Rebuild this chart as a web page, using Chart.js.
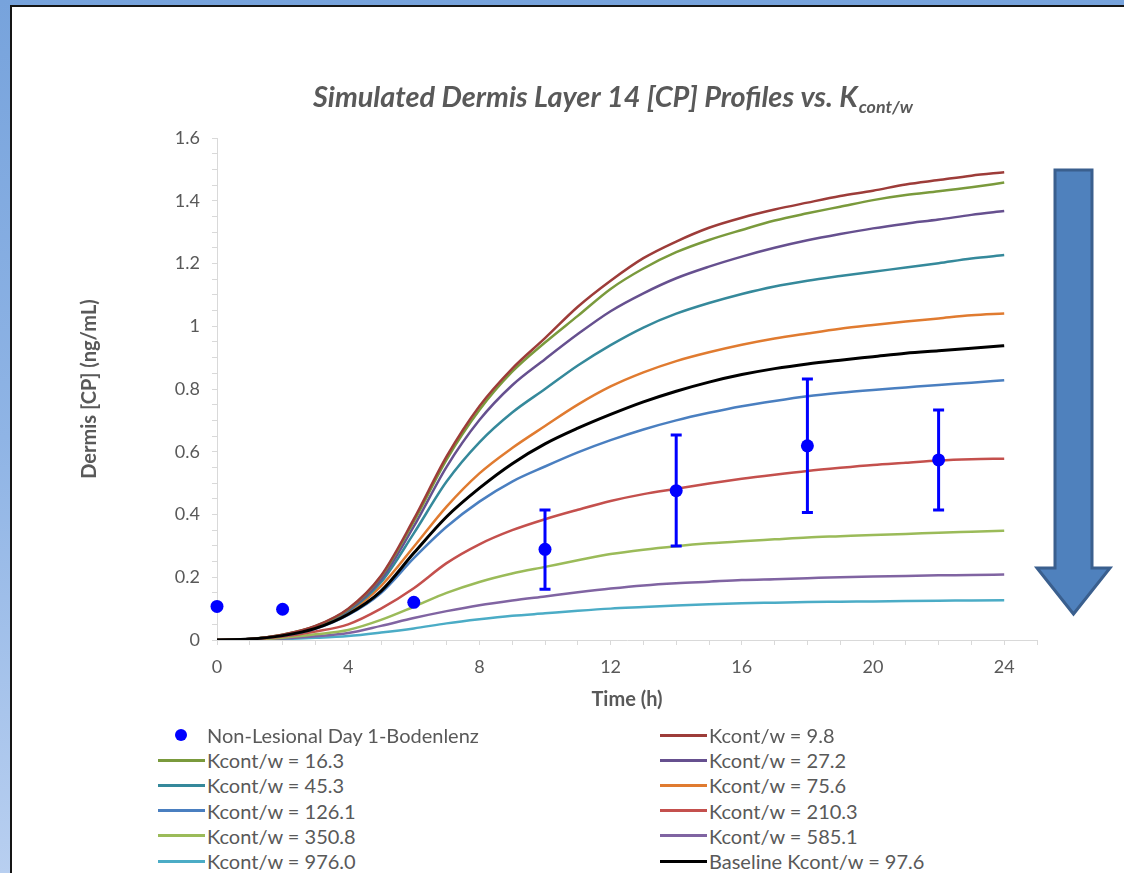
<!DOCTYPE html>
<html><head><meta charset="utf-8">
<script src="https://cdn.jsdelivr.net/npm/chart.js@4/dist/chart.umd.min.js"></script>
<style>
html,body{margin:0;padding:0;}
body{width:1124px;height:873px;overflow:hidden;position:relative;background:linear-gradient(to bottom,#77a3dc 0%,#8fb4e5 50%,#b8cff0 100%);font-family:Lato,"Open Sans",sans-serif;}
#panel{position:absolute;left:10px;top:5px;width:1114px;height:868px;background:#fff;border-left:2px solid #151515;border-top:2px solid #151515;box-sizing:border-box;}
#wrap{position:absolute;left:12px;top:7px;width:1112px;height:720px;}
.li{position:absolute;height:24px;display:flex;align-items:center;font-size:20px;color:#595959;white-space:nowrap;}
.sw{width:47px;height:3px;margin-right:2px;}
.dot{width:12px;height:12px;border-radius:50%;background:#0000ff;margin:0 20px 0 17px;}
#arrow{position:absolute;left:0;top:0;pointer-events:none;}
</style></head>
<body>
<div id="panel"></div>
<div id="wrap"><canvas id="c" width="1112" height="720"></canvas></div>
<div id="legend"></div>
<svg id="arrow" width="1124" height="873"><polygon points="1055,170 1092,170 1092,568 1110,568 1073.5,614 1037,568 1055,568" fill="#4f81bd" stroke="#3a5f8e" stroke-width="3" stroke-linejoin="miter"/></svg>
<script>
const TITLE_MAIN = 'Simulated Dermis Layer 14 [CP] Profiles vs. K';
const TITLE_SUB = 'cont/w';
const X_TITLE = 'Time (h)';
const Y_TITLE = 'Dermis [CP] (ng/mL)';

const hours = [0,1,2,3,4,5,6,7,8,9,10,11,12,13,14,15,16,17,18,19,20,21,22,23,24];

const k9_8   = [0,0.003,0.017,0.045,0.100,0.205,0.385,0.585,0.745,0.865,0.962,1.062,1.145,1.217,1.270,1.314,1.346,1.372,1.394,1.415,1.432,1.452,1.466,1.480,1.491];
const k16_3  = [0,0.003,0.017,0.044,0.098,0.202,0.378,0.575,0.733,0.855,0.948,1.033,1.119,1.184,1.236,1.275,1.307,1.337,1.360,1.381,1.402,1.418,1.430,1.443,1.458];
const k27_2  = [0,0.003,0.016,0.043,0.095,0.193,0.362,0.552,0.701,0.812,0.895,0.975,1.048,1.105,1.153,1.190,1.222,1.250,1.274,1.294,1.312,1.327,1.340,1.355,1.367];
const k45_3  = [0,0.003,0.016,0.042,0.092,0.184,0.340,0.505,0.630,0.725,0.800,0.875,0.940,0.996,1.040,1.074,1.103,1.127,1.145,1.160,1.174,1.187,1.201,1.216,1.227];
const k75_6  = [0,0.003,0.015,0.040,0.088,0.172,0.297,0.425,0.531,0.612,0.682,0.750,0.808,0.853,0.889,0.917,0.941,0.961,0.977,0.992,1.004,1.015,1.025,1.035,1.041];
const k126_1 = [0,0.003,0.014,0.036,0.080,0.150,0.261,0.361,0.441,0.505,0.553,0.598,0.637,0.671,0.700,0.724,0.745,0.762,0.777,0.788,0.797,0.805,0.813,0.820,0.828];
const k210_3 = [0,0.002,0.011,0.027,0.050,0.100,0.165,0.245,0.305,0.350,0.385,0.415,0.443,0.465,0.482,0.499,0.514,0.527,0.539,0.549,0.558,0.565,0.572,0.576,0.578];
const k350_8 = [0,0.001,0.007,0.018,0.032,0.064,0.106,0.150,0.185,0.212,0.233,0.254,0.274,0.288,0.299,0.308,0.315,0.321,0.327,0.331,0.335,0.338,0.342,0.345,0.348];
const k585_1 = [0,0.001,0.005,0.012,0.022,0.045,0.070,0.092,0.111,0.126,0.139,0.152,0.164,0.174,0.181,0.186,0.191,0.194,0.197,0.200,0.202,0.204,0.206,0.207,0.209];
const k976_0 = [0,0.001,0.003,0.007,0.013,0.024,0.037,0.053,0.066,0.077,0.085,0.093,0.100,0.105,0.110,0.114,0.117,0.119,0.121,0.122,0.123,0.124,0.125,0.126,0.127];
const baseline97_6 = [0,0.003,0.014,0.037,0.082,0.156,0.277,0.393,0.484,0.562,0.625,0.675,0.719,0.759,0.793,0.822,0.846,0.865,0.880,0.892,0.903,0.914,0.922,0.930,0.938];

const obsHours = [0,2,6,10,14,18,22];
const obsMean  = [0.107,0.098,0.120,0.289,0.476,0.619,0.574];
const obsLow   = [null,null,null,0.162,0.300,0.406,0.414];
const obsHigh  = [null,null,null,0.414,0.653,0.832,0.733];

const xTicks = [0,4,8,12,16,20,24];
const yTicks = [0,0.2,0.4,0.6,0.8,1,1.2,1.4,1.6];

const seriesDefs = [
  ['Kcont/w = 9.8', k9_8, '#9d3c39'],
  ['Kcont/w = 16.3', k16_3, '#7a9a3c'],
  ['Kcont/w = 27.2', k27_2, '#66508f'],
  ['Kcont/w = 45.3', k45_3, '#35899b'],
  ['Kcont/w = 75.6', k75_6, '#e07b30'],
  ['Kcont/w = 126.1', k126_1, '#4a7fc0'],
  ['Kcont/w = 210.3', k210_3, '#c4504d'],
  ['Kcont/w = 350.8', k350_8, '#9bbb59'],
  ['Kcont/w = 585.1', k585_1, '#8064a2'],
  ['Kcont/w = 976.0', k976_0, '#4bacc6'],
  ['Baseline Kcont/w = 97.6', baseline97_6, '#000000']
];

const datasets = [{
  label: 'Non-Lesional Day 1-Bodenlenz',
  data: obsHours.map((h,i)=>({x:h,y:obsMean[i]})),
  backgroundColor:'#0000ff', borderColor:'#0000ff',
  pointRadius:6.5, pointHoverRadius:6.5, pointBorderWidth:0,
  showLine:false, order:0, clip:false
}];
seriesDefs.forEach((s,i)=>{
  const isBase = s[0].startsWith('Baseline');
  datasets.push({
    label:s[0],
    data:hours.map((h,j)=>({x:h,y:s[1][j]})),
    borderColor:s[2], backgroundColor:s[2],
    borderWidth:isBase?3:2.5,
    pointRadius:0, pointHoverRadius:0,
    showLine:true, cubicInterpolationMode:'monotone',
    order:isBase?1:2+i
  });
});

const near = (v,arr)=>arr.some(t=>Math.abs(t-v)<1e-6);

const titlePlugin = {
  id:'titleSub',
  afterDraw(chart){
    const ctx = chart.ctx;
    ctx.save();
    let size = 22;
    ctx.font = 'italic bold '+size+'px Lato';
    const w0 = ctx.measureText(TITLE_MAIN).width;
    size = size*545/w0;
    ctx.font = 'italic bold '+size+'px Lato';
    ctx.fillStyle = '#595959';
    ctx.textBaseline = 'alphabetic';
    ctx.fillText(TITLE_MAIN, 301, 100);
    const w = ctx.measureText(TITLE_MAIN).width;
    ctx.font = 'italic bold '+(size*0.62)+'px Lato';
    ctx.fillText(TITLE_SUB, 301+w+1, 106);
    ctx.restore();
  }
};

const errPlugin = {
  id:'errbars',
  afterDatasetsDraw(chart){
    const xs = chart.scales.x, ys = chart.scales.y, ctx = chart.ctx;
    ctx.save();
    ctx.strokeStyle = '#0000ff'; ctx.lineWidth = 3;
    obsHours.forEach((h,i)=>{
      if (obsLow[i]==null) return;
      const x = xs.getPixelForValue(h);
      const y1 = ys.getPixelForValue(obsLow[i]);
      const y2 = ys.getPixelForValue(obsHigh[i]);
      ctx.beginPath();
      ctx.moveTo(x,y1); ctx.lineTo(x,y2);
      ctx.moveTo(x-5.5,y1); ctx.lineTo(x+5.5,y1);
      ctx.moveTo(x-5.5,y2); ctx.lineTo(x+5.5,y2);
      ctx.stroke();
    });
    ctx.restore();
  }
};

const tickFont = {family:'Lato', size:18};
const chart = new Chart(document.getElementById('c'), {
  type:'scatter',
  data:{datasets},
  options:{
    responsive:false, animation:false, events:[],
    layout:{padding:{left:66,right:87,top:131,bottom:7}},
    plugins:{legend:{display:false}, tooltip:{enabled:false}, title:{display:false}},
    scales:{
      x:{type:'linear', min:0, max:25,
        ticks:{stepSize:1, autoSkip:false, maxRotation:0, maxTicksLimit:100, padding:11, color:'#595959', font:tickFont,
          callback:(v)=> near(v,xTicks) ? String(v) : ''},
        grid:{drawOnChartArea:false, tickLength:5, color:'#d9d9d9'},
        border:{color:'#d9d9d9', width:1},
        title:{display:true, text:X_TITLE, color:'#595959', font:{family:'Lato', size:20, weight:'bold'}, padding:{top:0,bottom:8}},
        afterFit(s){ s.height = 80; }
      },
      y:{type:'linear', min:0, max:1.6,
        ticks:{stepSize:0.05, autoSkip:false, maxTicksLimit:100, padding:12, color:'#595959', font:tickFont,
          callback:(v)=> near(v,yTicks) ? String(Number(v.toFixed(1))) : ''},
        grid:{drawOnChartArea:false, tickLength:5, color:'#d9d9d9'},
        border:{color:'#d9d9d9', width:1},
        title:{display:true, text:Y_TITLE, color:'#595959', font:{family:'Lato', size:20, weight:'bold'}, padding:0},
        afterFit(s){ s.width = 139; }
      }
    }
  },
  plugins:[titlePlugin, errPlugin]
});

// HTML legend built from the chart's datasets
const leg = document.getElementById('legend');
chart.data.datasets.forEach((ds,k)=>{
  const row = Math.floor(k/2), col = k%2;
  const el = document.createElement('div');
  el.className = 'li';
  el.style.left = (col===0?158:660)+'px';
  el.style.top = (723 + row*25.2)+'px';
  const m = document.createElement('span');
  if (ds.showLine===false) { m.className='dot'; }
  else { m.className='sw'; m.style.background = ds.borderColor; }
  el.appendChild(m);
  const t = document.createElement('span');
  t.textContent = ds.label;
  el.appendChild(t);
  leg.appendChild(el);
});
</script>
</body></html>
